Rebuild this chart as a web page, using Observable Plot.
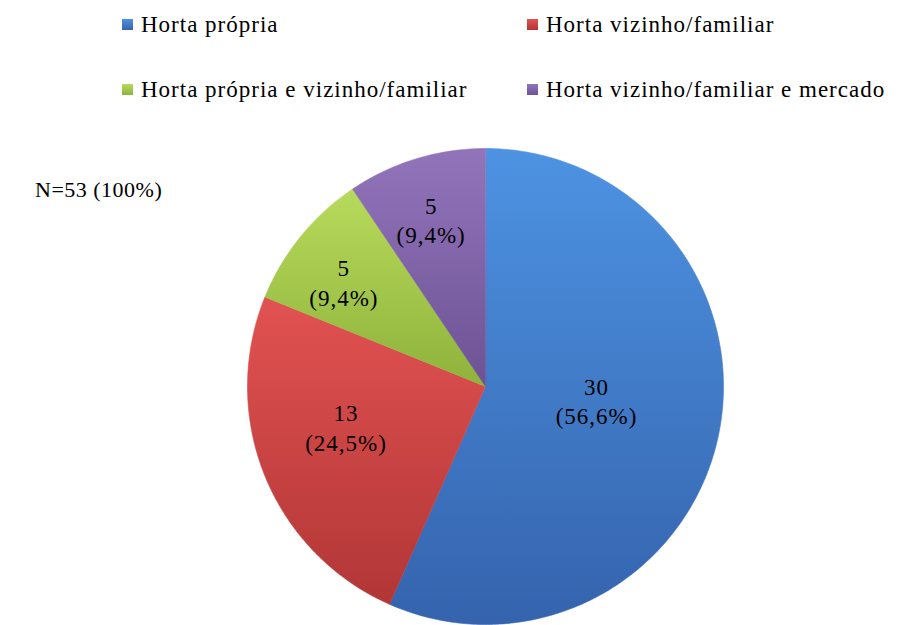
<!DOCTYPE html>
<html>
<head>
<meta charset="utf-8">
<script src="https://cdn.jsdelivr.net/npm/d3@7"></script>
<script src="https://cdn.jsdelivr.net/npm/@observablehq/plot@0.6"></script>
<style>
  body { margin: 0; background: #fff; font-family: "Liberation Serif", Tinos, "Times New Roman", Times, "DejaVu Serif", serif; }
  #wrap { position: relative; width: 901px; height: 625px; overflow: hidden; }
  #legend { position: absolute; left: 0; top: 0; width: 901px; height: 120px; }
  .item { position: absolute; font-size: 23px; letter-spacing: 1px; color: #000; white-space: nowrap; line-height: 1; }
  .sw { display: inline-block; width: 11px; height: 11px; margin-right: 8px; vertical-align: 2px; }
  #note { position: absolute; left: 35px; top: 179px; font-size: 22px; letter-spacing: 0.5px; line-height: 1; }
  #chart { position: absolute; left: 0; top: 120px; }
  #chart text { letter-spacing: 1px; }
</style>
</head>
<body>
<div id="wrap">
  <div id="legend"></div>
  <div id="note"></div>
  <div id="chart"></div>
</div>
<script>
const categories = ["Horta própria", "Horta vizinho/familiar", "Horta própria e vizinho/familiar", "Horta vizinho/familiar e mercado"];
const counts = [30, 13, 5, 5];
const colorsTop = ["#4d93e2", "#e25252", "#b8da5c", "#9274bb"];
const colorsBottom = ["#3563ad", "#b23636", "#8eb23b", "#6d5294"];
const noteText = "N=53 (100%)";

// label placement (layout): radius fraction and angle tweak in degrees
const labelLayout = {radius: [0.47, 0.61, 0.74, 0.74], turn: [-5, 6, -2.6, -1]};
const fontStack = "'Liberation Serif', Tinos, 'Times New Roman', Times, 'DejaVu Serif', serif";

const total = d3.sum(counts);
const pie = d3.pie().sort(null).value(d => d)(counts);

const pts = [];
pie.forEach((p, i) => {
  pts.push({cat: categories[i], x: 0, y: 0});
  const n = Math.max(8, Math.ceil((p.endAngle - p.startAngle) * 80));
  for (let j = 0; j <= n; j++) {
    const a = p.startAngle + (p.endAngle - p.startAngle) * j / n;
    pts.push({cat: categories[i], x: Math.sin(a), y: Math.cos(a)});
  }
});

const labels = pie.map((p, i) => {
  const a = (p.startAngle + p.endAngle) / 2 + labelLayout.turn[i] * Math.PI / 180;
  const r = labelLayout.radius[i];
  const pct = (counts[i] / total * 100).toFixed(1).replace(".", ",");
  return {x: r * Math.sin(a), y: r * Math.cos(a), text: `${counts[i]}\n(${pct}%)`};
});

const chart = Plot.plot({
  width: 901,
  height: 505,
  marginLeft: 247,
  marginRight: 178,
  marginTop: 28,
  marginBottom: 1,
  x: {domain: [-1, 1], axis: null},
  y: {domain: [-1, 1], axis: null},
  color: {domain: categories, range: categories.map((c, i) => `url(#grad${i})`)},
  style: {fontFamily: fontStack, background: "transparent"},
  marks: [
    Plot.line(pts, {x: "x", y: "y", z: "cat", fill: "cat", stroke: "cat", strokeWidth: 1, curve: "linear-closed", strokeOpacity: 0.6}),
    Plot.text(labels, {x: "x", y: "y", text: "text", fontSize: 23, lineHeight: 1.3, fill: "#000", fontFamily: fontStack})
  ]
});

const ns = "http://www.w3.org/2000/svg";
const defs = document.createElementNS(ns, "defs");
categories.forEach((c, i) => {
  const g = document.createElementNS(ns, "linearGradient");
  g.setAttribute("id", `grad${i}`);
  g.setAttribute("x1", "0"); g.setAttribute("y1", "0");
  g.setAttribute("x2", "0"); g.setAttribute("y2", "1");
  const s1 = document.createElementNS(ns, "stop");
  s1.setAttribute("offset", "0"); s1.setAttribute("stop-color", colorsTop[i]);
  const s2 = document.createElementNS(ns, "stop");
  s2.setAttribute("offset", "1"); s2.setAttribute("stop-color", colorsBottom[i]);
  g.appendChild(s1); g.appendChild(s2);
  defs.appendChild(g);
});
chart.insertBefore(defs, chart.firstChild);
document.getElementById("chart").appendChild(chart);

const legendPos = [[122, 13], [527, 13], [122, 78], [527, 78]];
const legend = document.getElementById("legend");
categories.forEach((c, i) => {
  const d = document.createElement("div");
  d.className = "item";
  d.style.left = legendPos[i][0] + "px";
  d.style.top = legendPos[i][1] + "px";
  d.innerHTML = `<span class="sw" style="background:linear-gradient(${colorsTop[i]},${colorsBottom[i]})"></span>${c}`;
  legend.appendChild(d);
});
document.getElementById("note").textContent = noteText;
</script>
</body>
</html>
